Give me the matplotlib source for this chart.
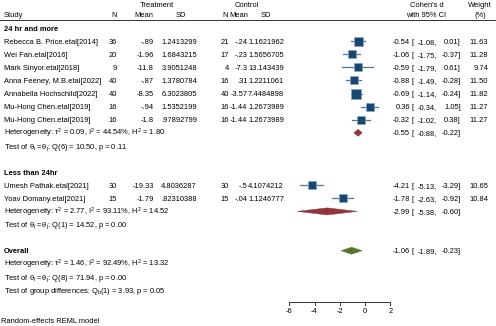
import matplotlib.pyplot as plt
from matplotlib.patches import Polygon
from matplotlib.transforms import blended_transform_factory

plt.rcParams['font.family'] = ['Liberation Sans', 'DejaVu Sans']

# ---- data ----
group1_name = "24 hr and more"
group2_name = "Less than 24hr"
studies = ["Rebecca B. Price.etal[2014]", "Wei Fan.etal[2016]", "Mark Sinyor.etal[2018]",
           "Anna Feeney, M.B.etal[2022]", "Annabella Hochschild[2022]", "Mu-Hong Chen.etal[2019]",
           "Mu-Hong Chen.etal[2019]", "Umesh Pathak.etal[2021]", "Yoav Domany.etal[2021]"]
group_of = [1, 1, 1, 1, 1, 1, 1, 2, 2]
t_n = [36, 20, 9, 40, 40, 16, 16, 30, 15]
t_mean = ["-.89", "-1.96", "-11.8", "-.87", "-8.35", "-.94", "-1.8", "-19.33", "-1.79"]
t_sd = ["1.2413299", "1.6843215", "3.9051248", "1.3780784", "6.3023805", "1.5352199",
        ".97892799", "4.8036287", ".82310388"]
c_n = [21, 17, 4, 16, 40, 16, 16, 30, 15]
c_mean = ["-.24", "-.23", "-7.3", ".31", "-3.57", "-1.44", "-1.44", "-.5", "-.04"]
c_sd = ["1.1621962", "1.5656705", "13.143439", "1.2211061", "7.4484898", "1.2673989",
        "1.2673989", "4.1074212", "1.1246777"]
d = [-0.54, -1.06, -0.59, -0.88, -0.69, 0.36, -0.32, -4.21, -1.78]
ci_lo = [-1.08, -1.75, -1.79, -1.49, -1.14, -0.34, -1.02, -5.13, -2.63]
ci_hi = [0.01, -0.37, 0.61, -0.28, -0.24, 1.05, 0.38, -3.29, -0.92]
weight = [11.63, 11.28, 9.74, 11.50, 11.82, 11.27, 11.27, 10.65, 10.84]

# subgroup / overall summaries: estimate, lower, upper
g1_sum = [-0.55, -0.88, -0.22]
g2_sum = [-2.99, -5.38, -0.60]
overall_sum = [-1.06, -1.89, -0.23]

g1_het = r"Heterogeneity: $\mathregular{\tau^2}$ = 0.09, $\mathregular{I^2}$ = 44.54%, $\mathregular{H^2}$ = 1.80"
g1_test = r"Test of $\mathregular{\theta_i = \theta_j}$: Q(6) = 10.50, p = 0.11"
g2_het = r"Heterogeneity: $\mathregular{\tau^2}$ = 2.77, $\mathregular{I^2}$ = 93.11%, $\mathregular{H^2}$ = 14.52"
g2_test = r"Test of $\mathregular{\theta_i = \theta_j}$: Q(1) = 14.52, p = 0.00"
all_het = r"Heterogeneity: $\mathregular{\tau^2}$ = 1.46, $\mathregular{I^2}$ = 92.49%, $\mathregular{H^2}$ = 13.32"
all_test = r"Test of $\mathregular{\theta_i = \theta_j}$: Q(8) = 71.94, p = 0.00"
group_test = r"Test of group differences: $\mathregular{Q_b}$(1) = 3.93, p = 0.05"
x_ticks = [-6, -4, -2, 0, 2]

# ---- layout ----
navy = '#1a476f'
maroon = '#90353b'
green = '#55752f'
fs = 5.4
PX = 12.625   # pixels per unit of d
X0 = 365      # pixel position of d = 0
ROW = 13.1    # pixels per row
Y0 = 28       # pixel position of row 0

fig = plt.figure(figsize=(4.96, 3.26), dpi=100)
ax = fig.add_axes([0, 0, 1, 1])
ax.axis('off')
ax.set_xlim(-X0 / PX, (496 - X0) / PX)
ax.set_ylim((326 - Y0) / ROW, -Y0 / ROW)
tr = blended_transform_factory(fig.transFigure, ax.transData)


def txt(px, row, s, ha='left', **kw):
    ax.text(px / 496, row + 0.2, s, transform=tr, ha=ha, va='baseline',
            fontsize=fs, color='black', **kw)


def diamond(row, est, lo, hi, color):
    h = 0.27
    ax.add_patch(Polygon([(lo, row), (est, row - h), (hi, row), (est, row + h)],
                         closed=True, facecolor=color, edgecolor=color, lw=0.3))


def ci_text(row, est, lo, hi):
    txt(410, row, f"{est:.2f}", ha='right')
    txt(412, row, "[")
    txt(437, row, f"{lo:.2f},", ha='right')
    txt(461, row, f"{hi:.2f}]", ha='right')


# header
txt(157, -1.83, "Treatment", ha='center')
txt(247, -1.83, "Control", ha='center')
txt(427, -1.83, "Cohen's d", ha='center')
txt(480, -1.83, "Weight", ha='center')
txt(4, -1.07, "Study")
txt(114, -1.07, "N", ha='center')
txt(144, -1.07, "Mean", ha='center')
txt(181, -1.07, "SD", ha='center')
txt(225, -1.07, "N", ha='center')
txt(239, -1.07, "Mean", ha='center')
txt(266, -1.07, "SD", ha='center')
txt(426, -1.07, "with 95% CI", ha='center')
txt(480, -1.07, "(%)", ha='center')
ax.plot([0, 1], [-0.62, -0.62], transform=tr, color='#333333', lw=0.7, clip_on=False)

# rows
rows = []
r = 1
for g in group_of:
    if g == 2 and r < 12:
        r = 12
    rows.append(r)
    r += 1

txt(4, 0, group1_name, fontweight='bold')
txt(4, 11, group2_name, fontweight='bold')
txt(4, 17, "Overall", fontweight='bold')

for i, row in enumerate(rows):
    txt(4, row, studies[i])
    txt(117, row, str(t_n[i]), ha='right')
    txt(154, row, t_mean[i], ha='right')
    txt(197, row, t_sd[i], ha='right')
    txt(229, row, str(c_n[i]), ha='right')
    txt(247.5, row, c_mean[i], ha='right')
    txt(284, row, c_sd[i], ha='right')
    ax.plot([ci_lo[i], ci_hi[i]], [row, row], color='#4f76a0', lw=0.9, zorder=2)
    side_pt = 9.0 * (weight[i] / 11.63) ** 0.5 * 0.72
    ax.scatter([d[i]], [row], marker='s', s=side_pt ** 2, color=navy,
               edgecolor='#8aa3bd', linewidth=0.5, zorder=3)
    ci_text(row, d[i], ci_lo[i], ci_hi[i])
    txt(488, row, f"{weight[i]:.2f}", ha='right')

# subgroup 1 summary
txt(4, 8, g1_het)
txt(4, 9, g1_test)
diamond(8, *g1_sum, maroon)
ci_text(8, *g1_sum)

# subgroup 2 summary
txt(4, 14, g2_het)
txt(4, 15, g2_test)
diamond(14, *g2_sum, maroon)
ci_text(14, *g2_sum)

# overall
txt(4, 18, all_het)
txt(4, 19, all_test)
diamond(17, *overall_sum, green)
ci_text(17, *overall_sum)
txt(4, 20.05, group_test)

# x axis
ya = (302 - Y0) / ROW
ax.plot([x_ticks[0], x_ticks[-1]], [ya, ya], color='#333333', lw=0.7)
for t in x_ticks:
    ax.plot([t, t], [ya, ya + 0.22], color='#333333', lw=0.7)
    ax.text(t, (310 - Y0) / ROW + 0.2, f"{t:g}", ha='center', va='baseline', fontsize=fs)

txt(1, (320 - Y0) / ROW, "Random-effects REML model")

fig.savefig("out.png", dpi=100)
